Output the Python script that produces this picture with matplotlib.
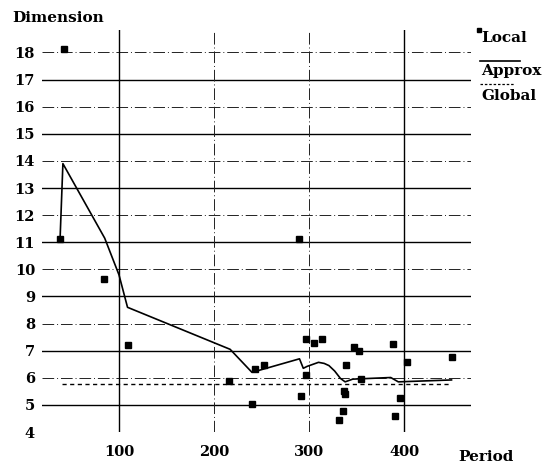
import matplotlib
matplotlib.use('Agg')
import matplotlib.pyplot as plt
from matplotlib.lines import Line2D

# valores
local_x = [42, 38, 84, 110, 216, 240, 243, 253, 290, 292, 297, 297, 305, 314,
           332, 336, 337, 338, 339, 347, 353, 355, 388, 391, 396, 403, 451]
local_y = [18.14, 11.11, 9.66, 7.22, 5.89, 5.05, 6.33, 6.48, 11.11, 5.34, 7.44, 6.12, 7.28, 7.44,
           4.43, 4.78, 5.51, 5.39, 6.48, 7.13, 7.0, 5.94, 7.24, 4.59, 5.24, 6.58, 6.76]

approx_x = [38, 41, 85, 100, 109, 217, 240, 290, 294, 298, 310, 316, 321, 327,
            333, 338, 346, 386, 394, 450]
approx_y = [11.1, 13.9, 11.15, 9.8, 8.6, 7.05, 6.2, 6.7, 6.35, 6.42, 6.57, 6.53, 6.45, 6.25,
            5.98, 5.85, 5.95, 6.01, 5.85, 5.92]

global_x = [40, 447]
global_y = [5.77, 5.77]

yticks = list(range(4, 19))
xticks = [100, 200, 300, 400]

plt.rcParams['font.family'] = ['DejaVu Serif']
plt.rcParams['font.weight'] = 'bold'

W, H = 551, 465
fig = plt.figure(figsize=(W / 100, H / 100), dpi=100)
ax = fig.add_axes([42 / W, 1 - 432 / H, 429 / W, 402 / H])
ax.set_xlim(19, 470.5)
ax.set_ylim(4, 18.83)

# grade
for v in yticks:
    if v % 2 == 1:
        ax.axhline(v, color='black', lw=1.0, zorder=1)
    else:
        ax.axhline(v, color='#222222', lw=0.7, ls=(0, (12, 3, 1, 3)), zorder=1)
for v in xticks:
    if v in (100, 400):
        ax.axvline(v, color='black', lw=1.0, zorder=1)
    else:
        ax.axvline(v, color='#222222', lw=0.7, ls=(0, (12, 3, 1, 3)), zorder=1)

ax.plot(approx_x, approx_y, color='black', lw=1.2, zorder=3)
ax.plot(global_x, global_y, color='black', lw=1.0, ls=(0, (3, 2.5)), zorder=3)
ax.plot(local_x, local_y, 's', color='black', ms=4.5, zorder=4)

for s in ax.spines.values():
    s.set_visible(False)
ax.set_xticks(xticks)
ax.set_yticks(yticks)
ax.tick_params(length=0, labelsize=10.5)
ax.tick_params(axis='y', pad=5)
ax.tick_params(axis='x', pad=9)

fig.text(12 / W, 1 - 22 / H, 'Dimension', fontsize=11, fontweight='bold')
fig.text(458 / W, 1 - 461 / H, 'Period', fontsize=11, fontweight='bold')

# legenda
fig.text(481 / W, 1 - 42 / H, 'Local', fontsize=11, fontweight='bold')
fig.add_artist(Line2D([479 / W], [1 - 30 / H], marker='s', ms=3.5, color='black',
                      transform=fig.transFigure))
fig.text(481 / W, 1 - 75 / H, 'Approx', fontsize=11, fontweight='bold')
fig.add_artist(Line2D([480 / W, 520 / W], [1 - 61 / H, 1 - 61 / H], color='black', lw=1.2,
                      transform=fig.transFigure))
fig.text(481 / W, 1 - 100 / H, 'Global', fontsize=11, fontweight='bold')
fig.add_artist(Line2D([480 / W, 515 / W], [1 - 84 / H, 1 - 84 / H], color='black', lw=0.9,
                      ls=(0, (2, 1.5)), transform=fig.transFigure))

fig.savefig('out.png', dpi=100)
